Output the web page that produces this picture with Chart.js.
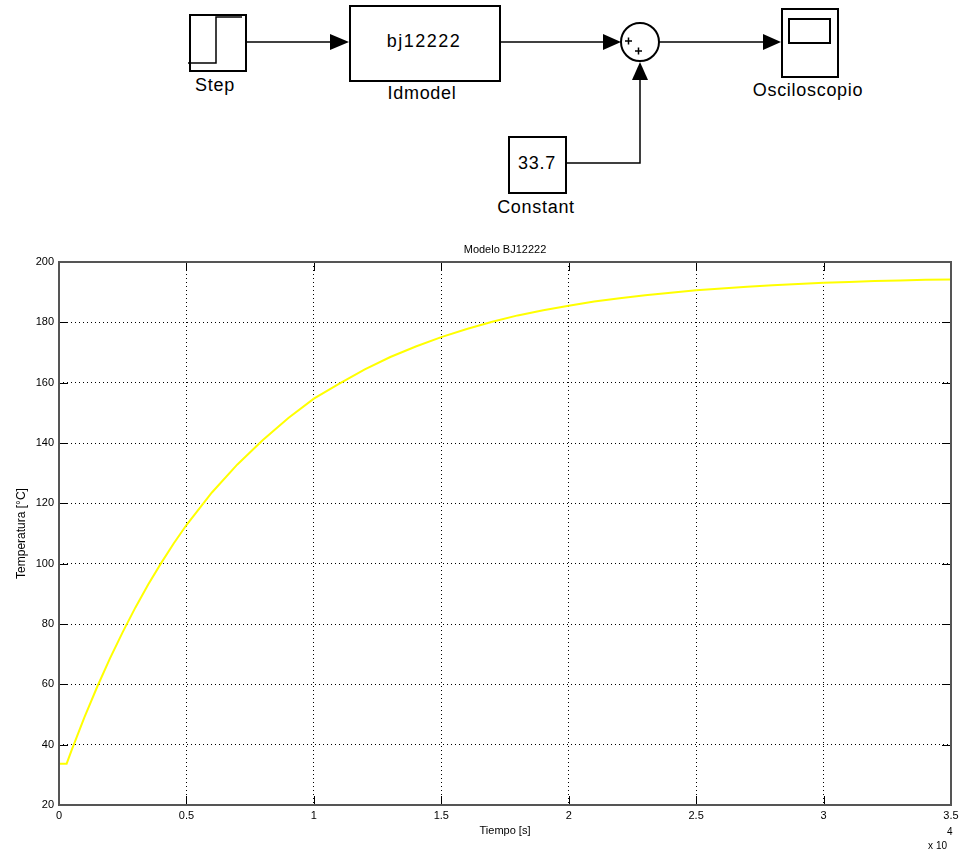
<!DOCTYPE html>
<html>
<head>
<meta charset="utf-8">
<title>Modelo BJ12222</title>
<script src="https://cdn.jsdelivr.net/npm/chart.js@4.4.1/dist/chart.umd.min.js"></script>
<style>
  body { margin: 0; background: #fff; width: 967px; height: 853px; position: relative; overflow: hidden;
         font-family: "Liberation Sans", Arial, sans-serif; }
  #diagram { position: absolute; left: 0; top: 0; }
  #diagram text { font-size: 18px; fill: #000; letter-spacing: 0.7px; }
  #plot { position: absolute; left: 0; top: 240px; }
</style>
</head>
<body>

<!-- simulink block diagram -->
<svg id="diagram" width="967" height="235" viewBox="0 0 967 235">
  <g fill="none" stroke="#000" stroke-width="2">
    <rect x="190" y="15" width="56" height="56"/>
    <rect x="350" y="6" width="150" height="75"/>
    <circle cx="640" cy="42" r="19"/>
    <rect x="509" y="137" width="57" height="56"/>
    <rect x="782" y="9" width="56" height="68"/>
    <rect x="789" y="19" width="41" height="24"/>
  </g>
  <g fill="none" stroke="#000" stroke-width="1.5">
    <polyline points="188,63 216,63 216,17 242,17"/>
    <line x1="246" y1="42" x2="331" y2="42"/>
    <line x1="500" y1="42" x2="604" y2="42"/>
    <line x1="659" y1="42" x2="764" y2="42"/>
    <polyline points="566,163 640,163 640,79"/>
    <path d="M625 41h7M628.5 37.5v7M635 51h7M638.5 47.5v7"/>
  </g>
  <g fill="#000">
    <polygon points="330,34 349,42 330,50"/>
    <polygon points="603,34 621,42 603,50"/>
    <polygon points="763,34 781,42 763,50"/>
    <polygon points="632,80 640,62 648,80"/>
  </g>
  <g text-anchor="middle">
    <text x="215" y="91">Step</text>
    <text x="424" y="47" style="letter-spacing:1.5px">bj12222</text>
    <text x="422" y="99">Idmodel</text>
    <text x="537" y="169">33.7</text>
    <text x="536" y="213">Constant</text>
    <text x="808" y="96">Osciloscopio</text>
  </g>
</svg>

<canvas id="plot" width="967" height="613"></canvas>

<script>
const plotTitle = 'Modelo BJ12222';
const xTitle = 'Tiempo [s]';
const yTitle = 'Temperatura [°C]';

// tiempo en segundos (eje en unidades de 10^4)
const timeSec = [0, 300, 500, 1000, 1500, 2000, 2500, 3000, 3500, 4000, 4500,
  5000, 6000, 7000, 8000, 9000, 10000, 11000, 12000, 13000, 14000,
  15000, 16000, 17000, 18000, 19000, 20000, 21000, 22000, 23000, 24000,
  25000, 26000, 27000, 28000, 29000, 30000, 31000, 32000, 33000, 34000, 35000];
const tempC = [33.7, 33.7, 38.3, 49.1, 59.2, 68.6, 77.3, 85.5, 93.1, 100.1, 106.7,
  112.8, 123.6, 132.9, 141.0, 148.3, 154.7, 159.7, 164.4, 168.5, 172.0,
  175.1, 177.8, 180.2, 182.3, 184.0, 185.5, 186.9, 188.0, 189.0, 189.8,
  190.6, 191.2, 191.8, 192.3, 192.7, 193.1, 193.4, 193.7, 193.9, 194.1, 194.2];

const xTickLabels = ['0', '0.5', '1', '1.5', '2', '2.5', '3', '3.5'];
const xExponent = '4';

const fontFamily = '"Liberation Sans", Arial, sans-serif';

const matlabFrame = {
  id: 'matlabFrame',
  afterDraw(chart) {
    const {ctx, chartArea: a, scales: {x, y}} = chart;
    ctx.save();
    ctx.strokeStyle = '#000';
    ctx.lineWidth = 1;
    ctx.beginPath();
    x.ticks.forEach(t => {
      const px = Math.round(x.getPixelForValue(t.value)) + 0.5;
      ctx.moveTo(px, a.bottom); ctx.lineTo(px, a.bottom - 9);
      ctx.moveTo(px, a.top); ctx.lineTo(px, a.top + 9);
    });
    y.ticks.forEach(t => {
      const py = Math.round(y.getPixelForValue(t.value)) + 0.5;
      ctx.moveTo(a.left, py); ctx.lineTo(a.left + 9, py);
      ctx.moveTo(a.right, py); ctx.lineTo(a.right - 9, py);
    });
    ctx.stroke();

    ctx.strokeStyle = '#555';
    ctx.lineWidth = 2;
    ctx.strokeRect(a.left, a.top, a.right - a.left, a.bottom - a.top);

    ctx.fillStyle = '#000';
    ctx.textBaseline = 'middle';
    ctx.font = '11px ' + fontFamily;
    ctx.textAlign = 'center';
    ctx.fillText(plotTitle, (a.left + a.right) / 2, a.top - 12);

    ctx.font = '10px ' + fontFamily;
    ctx.textAlign = 'right';
    ctx.fillText('x 10', a.right - 4, a.bottom + 41);
    ctx.textAlign = 'left';
    ctx.fillText(xExponent, a.right - 4, a.bottom + 27);
    ctx.restore();
  }
};

new Chart(document.getElementById('plot'), {
  type: 'line',
  data: {
    datasets: [{
      data: timeSec.map((t, i) => ({x: t, y: tempC[i]})),
      borderColor: '#ffff00',
      borderWidth: 2,
      pointRadius: 0,
      tension: 0,
      fill: false
    }]
  },
  options: {
    responsive: false,
    animation: false,
    events: [],
    layout: {padding: {top: 22, right: 16, left: 0, bottom: 0}},
    plugins: {
      legend: {display: false},
      title: {display: false},
      tooltip: {enabled: false}
    },
    scales: {
      x: {
        type: 'linear',
        min: 0,
        max: 35000,
        afterFit: s => { s.height = 48; },
        grid: {color: '#000', lineWidth: 1, drawTicks: false},
        border: {display: false, dash: [1, 3]},
        ticks: {
          stepSize: 5000,
          autoSkip: false,
          maxRotation: 0,
          padding: 4,
          color: '#000',
          font: {size: 11, family: fontFamily},
          callback: (v, i) => xTickLabels[i]
        },
        title: {
          display: true,
          text: xTitle,
          color: '#000',
          font: {size: 11, family: fontFamily},
          padding: {top: 0, bottom: 15}
        }
      },
      y: {
        min: 20,
        max: 200,
        afterFit: s => { s.width = 59; },
        grid: {color: '#000', lineWidth: 1, drawTicks: false},
        border: {display: false, dash: [1, 3]},
        ticks: {
          stepSize: 20,
          padding: 5,
          color: '#000',
          font: {size: 11, family: fontFamily}
        },
        title: {
          display: true,
          text: yTitle,
          color: '#000',
          font: {size: 12, family: fontFamily},
          padding: {top: 14, bottom: 0}
        }
      }
    }
  },
  plugins: [matlabFrame]
});
</script>
</body>
</html>
